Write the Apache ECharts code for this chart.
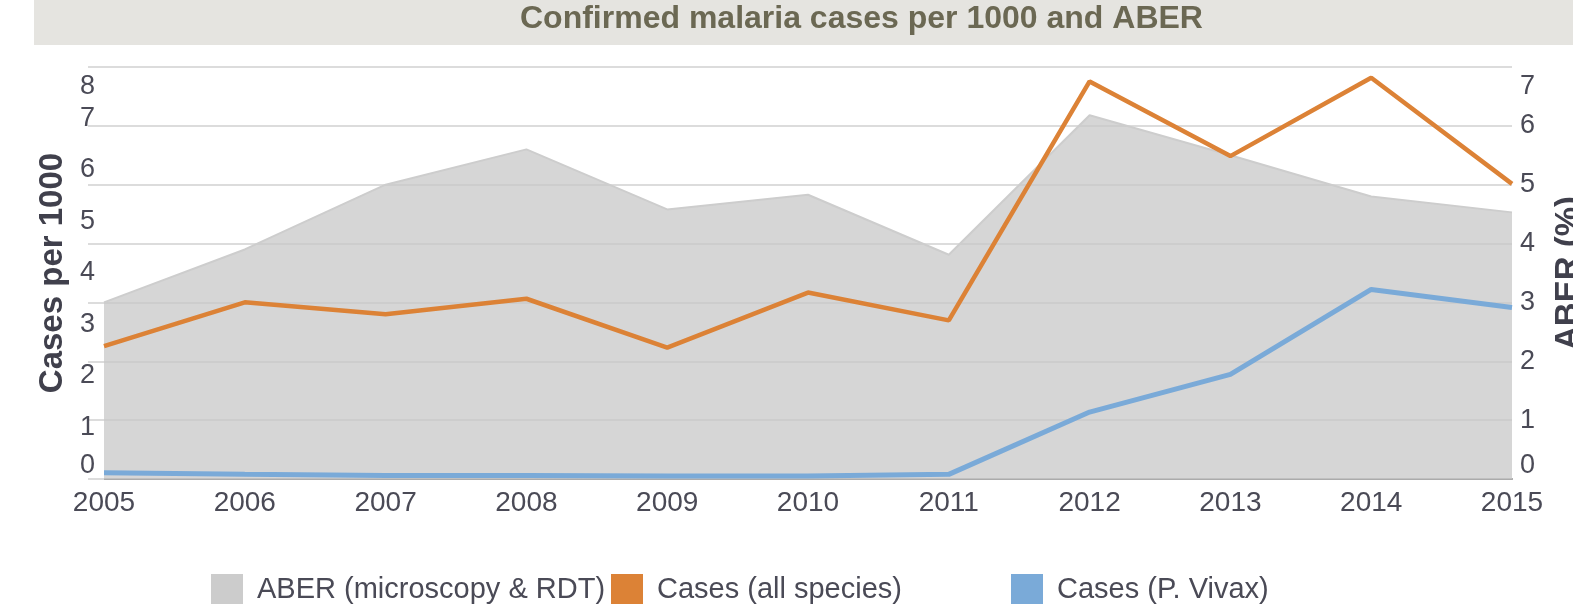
<!DOCTYPE html>
<html>
<head>
<meta charset="utf-8">
<title>Confirmed malaria cases per 1000 and ABER</title>
<script src="https://cdn.jsdelivr.net/npm/echarts@6/dist/echarts.min.js"></script>
<style>
  html, body { margin: 0; padding: 0; background: #fff; }
  #main { width: 1573px; height: 604px; }
</style>
</head>
<body>
<div id="main"></div>
<script>
  // data
  const years = ['2005', '2006', '2007', '2008', '2009', '2010', '2011', '2012', '2013', '2014', '2015'];
  const aberPct = [3.0, 3.9, 5.0, 5.6, 4.58, 4.83, 3.81, 6.18, 5.5, 4.8, 4.53];
  const casesAll = [2.58, 3.43, 3.2, 3.5, 2.55, 3.62, 3.08, 7.72, 6.27, 7.79, 5.73];
  const casesVivax = [0.12, 0.09, 0.07, 0.07, 0.06, 0.06, 0.09, 1.3, 2.03, 3.68, 3.33];
  const casesAxisMax = 8;
  const aberAxisMax = 7;

  const font = "'Liberation Sans', Arial, Helvetica, sans-serif";
  const labelColor = '#4a4a56';
  const gridColor = '#dcdcdc';

  // top label sits a bit lower than its gridline, like the original
  function tickLabel(max) {
    return {
      fontSize: 27, color: labelColor, fontFamily: font,
      verticalAlignMaxLabel: 'top', verticalAlignMinLabel: 'bottom',
      formatter: v => v === max ? '{mx|' + v + '}' : String(v),
      rich: { mx: { lineHeight: 40, fontSize: 27, color: labelColor, fontFamily: font } }
    };
  }

  const chart = echarts.init(document.getElementById('main'));
  const option = {
    backgroundColor: '#fff',
    animation: false,
    textStyle: { fontFamily: font },
    title: {
      text: 'Confirmed malaria cases per 1000 and ABER',
      left: 520,
      top: 3,
      padding: 0,
      textStyle: { fontSize: 32, fontWeight: 'bold', color: '#6b6853', lineHeight: 32, fontFamily: font }
    },
    graphic: [{
      type: 'rect', z: -10,
      shape: { x: 34, y: 0, width: 1539, height: 45 },
      style: { fill: '#e5e4e0' }
    }],
    grid: { left: 104, right: 61, top: 67, bottom: 125, outerBoundsMode: 'none' },
    legend: [
      { data: ['ABER (microscopy & RDT)'], left: 211 },
      { data: ['Cases (all species)'], left: 611 },
      { data: ['Cases (P. Vivax)'], left: 1011 }
    ].map(l => Object.assign(l, {
      top: 574, padding: 0, icon: 'rect', itemWidth: 32, itemHeight: 32,
      selectedMode: false,
      textStyle: { fontSize: 29, color: labelColor, padding: [0, 0, 0, 9], fontFamily: font }
    })),
    xAxis: [{
      type: 'category',
      data: years,
      boundaryGap: false,
      axisLine: { lineStyle: { color: '#ababab', width: 2 } },
      axisTick: { show: false },
      axisLabel: { fontSize: 28, color: labelColor, margin: 10, fontFamily: font }
    }, {
      type: 'category',
      position: 'top',
      data: years,
      boundaryGap: false,
      axisLine: { lineStyle: { color: '#ababab', width: 2 } },
      axisTick: { show: false },
      axisLabel: { show: false }
    }],
    yAxis: [{
      type: 'value',
      position: 'left',
      min: 0, max: casesAxisMax, interval: 1,
      name: 'Cases per 1000',
      nameLocation: 'middle',
      nameGap: 27,
      nameTextStyle: { fontSize: 33, fontWeight: 'bold', color: '#40404c', fontFamily: font },
      axisLine: { show: false },
      axisTick: { show: false },
      splitLine: { show: false },
      axisLabel: Object.assign(tickLabel(casesAxisMax), { margin: 9 })
    }, {
      type: 'value',
      position: 'right',
      min: 0, max: aberAxisMax, interval: 1,
      name: 'ABER (%)',
      nameLocation: 'middle',
      nameGap: 40,
      nameTextStyle: { fontSize: 33, fontWeight: 'bold', color: '#40404c', fontFamily: font },
      axisLine: { show: false },
      axisTick: { show: false },
      splitLine: { show: true, lineStyle: { color: gridColor, width: 2 } },
      axisLabel: Object.assign(tickLabel(aberAxisMax), { margin: 8 })
    }, {
      // short stubs of the gridlines on the left of the plot
      type: 'value',
      position: 'left',
      min: 0, max: aberAxisMax, interval: 1,
      axisLine: { show: false },
      axisTick: { show: true, length: 16, lineStyle: { color: gridColor, width: 2 } },
      axisLabel: { show: false },
      splitLine: { show: false }
    }],
    series: [{
      name: 'ABER (microscopy & RDT)',
      type: 'line',
      yAxisIndex: 1,
      data: aberPct,
      symbol: 'none',
      color: '#cccccc',
      lineStyle: { color: '#cdcdcd', width: 2 },
      areaStyle: { color: 'rgba(200,200,200,0.74)', opacity: 1 },
      z: 1
    }, {
      name: 'Cases (all species)',
      type: 'line',
      yAxisIndex: 0,
      data: casesAll,
      symbol: 'none',
      color: '#dc8236',
      lineStyle: { color: '#dc8236', width: 4.5 },
      z: 3
    }, {
      name: 'Cases (P. Vivax)',
      type: 'line',
      yAxisIndex: 0,
      data: casesVivax,
      symbol: 'none',
      color: '#7aaad8',
      lineStyle: { color: '#7aaad8', width: 5 },
      z: 2
    }]
  };
  chart.setOption(option);
</script>
</body>
</html>
